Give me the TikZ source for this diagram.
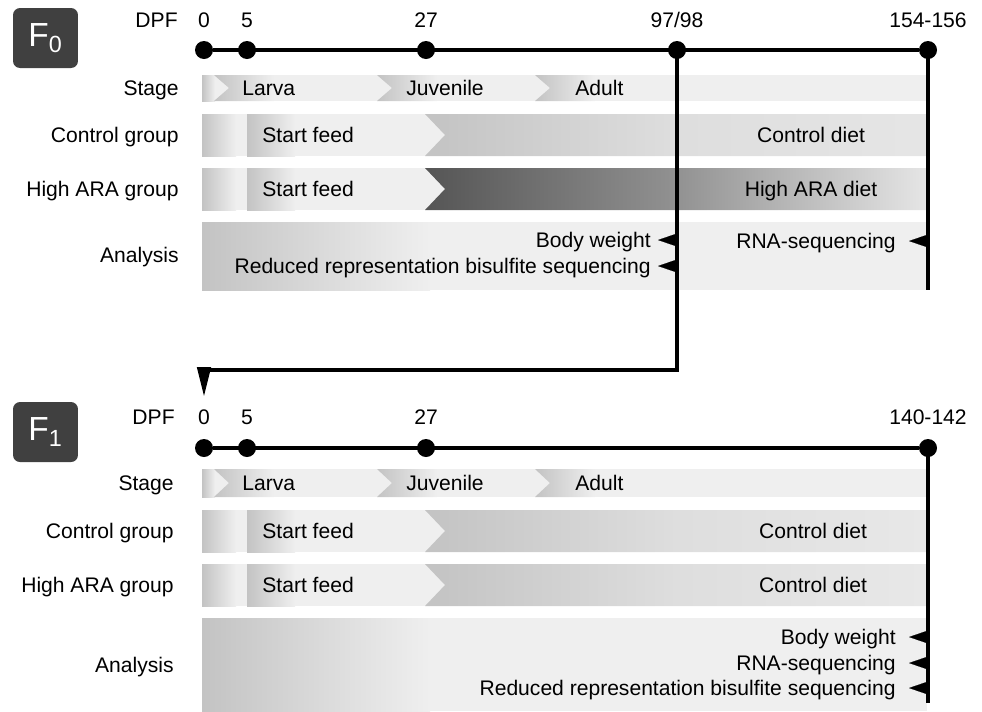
\documentclass[tikz,border=0pt]{standalone}
\usepackage{fontspec}
\setmainfont{Liberation Sans}
\usetikzlibrary{positioning,arrows.meta}
\definecolor{rowbg}{RGB}{239,239,239}
\definecolor{midgray}{RGB}{195,195,195}
\definecolor{deepgray}{RGB}{85,85,85}
\definecolor{boxgray}{RGB}{64,64,64}

\tikzset{
  txt/.style={font=\fontsize{12}{14}\selectfont,inner sep=0pt,text height=8.6pt,text depth=0pt},
  rowlabel/.style={txt,anchor=east},
  dot/.style={circle,fill=black,inner sep=0pt,minimum size=0.36cm},
  genbox/.style={fill=boxgray,rounded corners=0.14cm,minimum width=1.3cm,minimum height=1.2cm,
    text=white,font=\fontsize{19}{20}\selectfont},
  timeline/.style={line width=0.085cm},
  pointer/.style={-{Triangle[length=0.38cm,width=0.26cm]},line width=0.1pt},
}

\begin{document}
\begin{tikzpicture}[x=0.02cm,y=-0.02cm]
  \useasboundingbox (0,0) rectangle (982,711);

  %% ---- F0 ----
  \node[genbox] (g0) at (45.5,38) {F\textsubscript{0}};
  \node[rowlabel] (dpf0) at (178,20) {DPF};
  \foreach \n/\x/\lab in {1/204/0,2/247/5,3/426/27,4/677/{97/98},5/928/154-156}{
    \node[dot] (a\n) at (\x,50) {};
    \node[txt] (al\n) at (\x,20) {\lab};}

  % stage
  \node[rowlabel] (st0) at (179,88) {Stage};
  \fill[rowbg] (202,75) rectangle (927,101);
  \shade[left color=midgray,right color=rowbg] (202,75) rectangle (215,101);
  \foreach \x in {214,377,535}
    \shade[left color=midgray,right color=rowbg] (\x,75) -- (\x+60,75) -- (\x+60,101) -- (\x,101) -- (\x+15,88) -- cycle;
  \node[txt,anchor=west] (lv0) at (242,88) {Larva};
  \node[txt,anchor=west] (jv0) at (406,88) {Juvenile};
  \node[txt,anchor=west] (ad0) at (575,88) {Adult};

  % diet groups
  \foreach \t/\dark/\mid/\grp/\diet/\nm in {114/midgray/black!13/Control group/Control diet/c,
                                           168/deepgray/black!43/High ARA group/High ARA diet/h}{
    \node[rowlabel] (gr\nm0) at (179,\t+21) {\grp};
    \fill[rowbg] (202,\t) rectangle (927,\t+42);
    \shade[left color=midgray,right color=rowbg] (202,\t) rectangle (236,\t+42);
    \shade[left color=midgray,right color=rowbg] (247,\t) rectangle (295,\t+42);
    \shade[left color=\dark,right color=black!10,middle color=\mid]
      (425,\t) -- (927,\t) -- (927,\t+42) -- (425,\t+42) -- (445,\t+21) -- cycle;
    \node[txt,anchor=west] (sf\nm0) at (262,\t+21) {Start feed};
    \node[txt] (dt\nm0) at (811,\t+21) {\diet};}

  % analysis
  \node[rowlabel] (an0) at (179,255) {Analysis};
  \fill[rowbg] (202,222) rectangle (927,290);
  \shade[left color=midgray,right color=rowbg] (202,222) rectangle (430,290);
  \node[txt,anchor=east] (bw0) at (651,240) {Body weight};
  \node[txt,anchor=east] (rr0) at (651,266) {Reduced representation bisulfite sequencing};
  \node[txt,anchor=east] (rs0) at (896,241) {RNA-sequencing};

  %% ---- F1 ----
  \node[genbox] (g1) at (45.5,432) {F\textsubscript{1}};
  \node[rowlabel] (dpf1) at (175,417) {DPF};
  \foreach \n/\x/\lab in {1/204/0,2/247/5,3/426/27,4/928/140-142}{
    \node[dot] (b\n) at (\x,448) {};
    \node[txt] (bl\n) at (\x,417) {\lab};}

  % stage
  \node[rowlabel] (st1) at (174,483) {Stage};
  \fill[rowbg] (202,469) rectangle (927,497);
  \shade[left color=midgray,right color=rowbg] (202,469) rectangle (215,497);
  \foreach \x in {214,377,535}
    \shade[left color=midgray,right color=rowbg] (\x,469) -- (\x+60,469) -- (\x+60,497) -- (\x,497) -- (\x+15,483) -- cycle;
  \node[txt,anchor=west] (lv1) at (242,483) {Larva};
  \node[txt,anchor=west] (jv1) at (406,483) {Juvenile};
  \node[txt,anchor=west] (ad1) at (575,483) {Adult};

  % diet groups
  \foreach \t/\grp/\nm in {510/Control group/c,564/High ARA group/h}{
    \node[rowlabel] (gr\nm1) at (174,\t+21) {\grp};
    \fill[rowbg] (202,\t) rectangle (927,\t+42);
    \shade[left color=midgray,right color=rowbg] (202,\t) rectangle (236,\t+42);
    \shade[left color=midgray,right color=rowbg] (247,\t) rectangle (295,\t+42);
    \shade[left color=midgray,right color=black!9,middle color=black!13]
      (425,\t) -- (927,\t) -- (927,\t+42) -- (425,\t+42) -- (445,\t+21) -- cycle;
    \node[txt,anchor=west] (sf\nm1) at (262,\t+21) {Start feed};
    \node[txt] (dt\nm1) at (813,\t+21) {Control diet};}

  % analysis
  \node[rowlabel] (an1) at (174,665) {Analysis};
  \fill[rowbg] (202,618) rectangle (927,711);
  \shade[left color=midgray,right color=rowbg] (202,618) rectangle (430,711);
  \node[txt,anchor=east] (bw1) at (896,637) {Body weight};
  \node[txt,anchor=east] (rs1) at (896,663) {RNA-sequencing};
  \node[txt,anchor=east] (rr1) at (896,688) {Reduced representation bisulfite sequencing};

  %% ---- time lines ----
  \coordinate (bend) at (677,370);
  \coordinate (a5end) at (928,290);
  \coordinate (b4end) at (928,703);
  \draw[timeline] (a1) -- (a5);
  \draw[timeline] (a5.center) -- (a5end);
  \draw[timeline,-{Triangle[length=0.6cm,width=0.26cm]},shorten >=0.24cm]
    (a4.center) -- (bend) -| (bl1);
  \draw[timeline] (b1) -- (b4);
  \draw[timeline] (b4.center) -- (b4end);

  % sampling marks
  \foreach \s in {bw0,rr0}
    \draw[pointer] (a4 |- \s) -- ++(-19,0);
  \draw[pointer] (a5 |- rs0) -- ++(-19,0);
  \foreach \s in {bw1,rs1,rr1}
    \draw[pointer] (b4 |- \s) -- ++(-19,0);
\end{tikzpicture}
\end{document}
